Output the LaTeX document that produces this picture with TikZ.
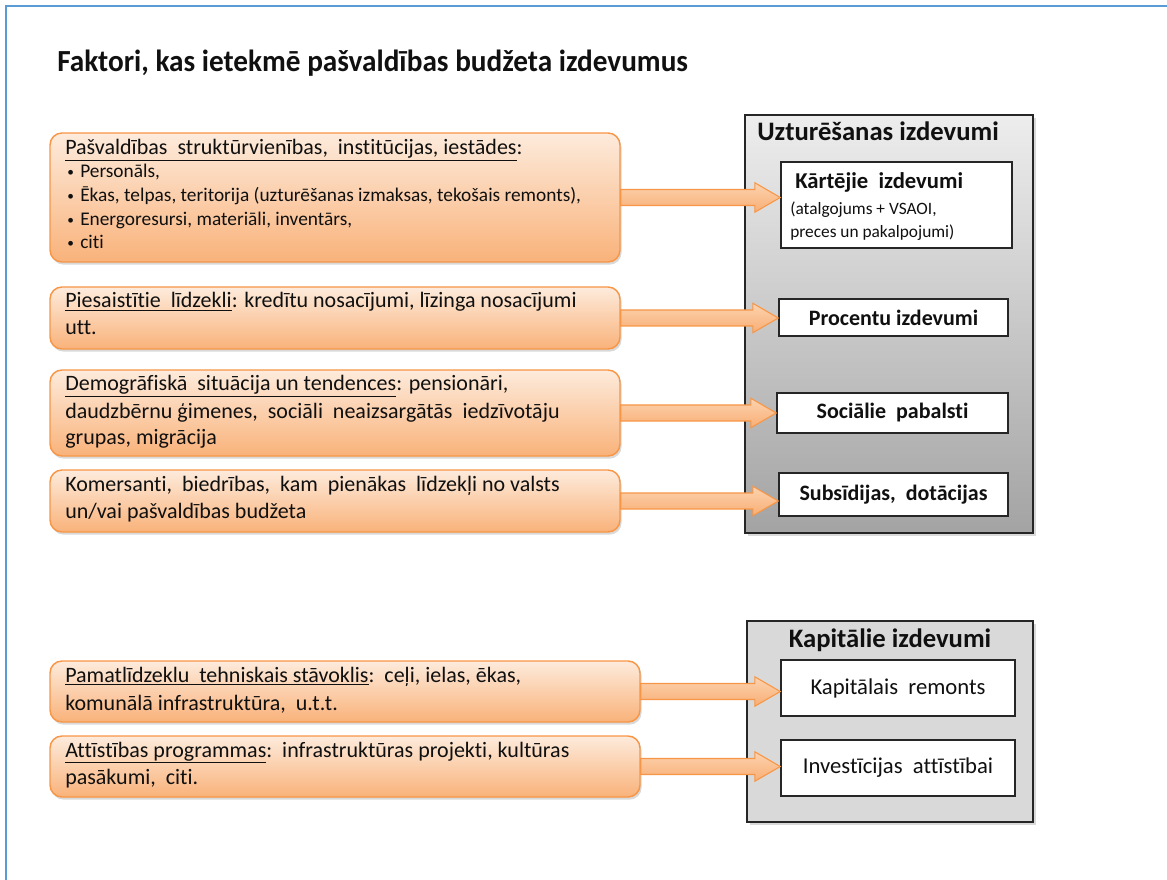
\documentclass[tikz,border=0pt]{standalone}
\usepackage{fontspec}
\setmainfont{Carlito}[Ligatures=NoCommon]
\usetikzlibrary{calc,fit,shadows}
\definecolor{orgb}{HTML}{F79646}
\definecolor{orgtop}{HTML}{FDEBDC}
\definecolor{orgbot}{HTML}{F9B27A}
\definecolor{arrtop}{HTML}{FCD3B0}
\definecolor{arrbot}{HTML}{F8AE74}
\definecolor{bluebd}{HTML}{5B9BD5}
\definecolor{txt}{HTML}{101010}
\newcommand\blockarrow[2]{%
  \draw[barrow] let \p1=(#1.east), \p2=(#2.west) in
    (\x1,\y1+6pt) -- (\x2-19pt,\y1+6pt) -- (\x2-19pt,\y1+11pt) -- (\x2,\y1)
    -- (\x2-19pt,\y1-11pt) -- (\x2-19pt,\y1-6pt) -- (\x1,\y1-6pt) -- cycle;}
\begin{document}
\begin{tikzpicture}[x=0.75pt,y=-0.75pt,
  lbox/.style={draw=orgb, line width=1.1pt, rounded corners=9pt,
    top color=orgtop, bottom color=orgbot, inner sep=0pt,
    drop shadow={shadow xshift=1.2pt, shadow yshift=-2pt, opacity=0.3}},
  gbox/.style={draw=black!85, line width=1.4pt, inner sep=0pt,
    drop shadow={shadow xshift=2pt, shadow yshift=-2pt, opacity=0.3}},
  wbox/.style={draw=black!85, line width=1.1pt, fill=white, inner sep=0pt},
  barrow/.style={draw=orgb, line width=0.8pt, top color=arrtop, bottom color=arrbot},
  ltxt/.style={anchor=base west, inner sep=0pt, text=txt, font=\fontsize{16.5}{19}\selectfont},
  btxt/.style={anchor=base west, inner sep=0pt, text=txt, font=\fontsize{14.5}{17}\selectfont},
  bul/.style={anchor=base west, inner sep=0pt, text=txt, font=\fontsize{10}{12}\selectfont},
  rtxt/.style={inner sep=0pt, text=txt, font=\fontsize{16.5}{19}\selectfont\bfseries},
  ntxt/.style={inner sep=0pt, text=txt, font=\fontsize{17}{19}\selectfont},
  htxt/.style={anchor=base, inner sep=0pt, text=txt, font=\fontsize{20}{22}\selectfont\bfseries}
]
\useasboundingbox (0,0) rectangle (1167,880);
\draw[bluebd, line width=2.2pt] (6,880) -- (6,6) -- (1167,6);

% title
\node[anchor=base west, inner sep=0pt, text=txt] (title) at (57,72)
  {\resizebox{473pt}{\height}{\fontsize{23}{27}\selectfont\bfseries Faktori, kas ietekmē pašvaldības budžeta izdevumus}};

% left boxes
\node[lbox, fit={(50,133)(620,262)}] (l1) {};
\node[lbox, fit={(50,287)(620,349)}] (l2) {};
\node[lbox, fit={(50,370)(620,456)}] (l3) {};
\node[lbox, fit={(50,470)(620,532)}] (l4) {};
\node[lbox, fit={(50,661)(640,722)}] (l5) {};
\node[lbox, fit={(50,736)(640,797)}] (l6) {};

% right containers
\node[gbox, top color=black!7, bottom color=black!36, fit={(745,115)(1033,533)}] (u) {};
\node[gbox, fill=black!15, fit={(747,621)(1033,822)}] (k) {};
\node[htxt, anchor=base west] (uh) at (757,141) {Uzturēšanas izdevumi};
\node[htxt] (kh) at (890,647) {Kapitālie izdevumi};

% white boxes
\node[wbox, fit={(781,162)(1012,248)}] (r1) {};
\node[wbox, fit={(779,299)(1008,336)}] (r2) {};
\node[wbox, fit={(777,393)(1008,433)}] (r3) {};
\node[wbox, fit={(779,473)(1008,516)}] (r4) {};
\node[wbox, fit={(781,660)(1015,716)}] (r5) {};
\node[wbox, fit={(781,740)(1015,796)}] (r6) {};

\node[rtxt, anchor=base west, font=\fontsize{17}{19}\selectfont\bfseries] (r1a) at (795,189) {Kārtējie\ \ izdevumi};
\node[ntxt, anchor=base west, font=\fontsize{13}{15}\selectfont] (r1b) at (790,215) {(atalgojums + VSAOI,};
\node[ntxt, anchor=base west, font=\fontsize{13}{15}\selectfont] (r1c) at (790,238) {preces un pakalpojumi)};
\node[rtxt] (r2t) at (r2.center) {Procentu izdevumi};
\node[rtxt] (r3t) at (r3.center) {Sociālie\ \ pabalsti};
\node[rtxt] (r4t) at (r4.center) {Subsīdijas,\ \ dotācijas};
\node[ntxt] (r5t) at (r5.center) {Kapitālais\ \ remonts};
\node[ntxt] (r6t) at (r6.center) {Investīcijas\ \ attīstībai};

% left texts
\node[ltxt] (t1) at (65,155) {\underline{Pašvaldības\ \ struktūrvienības,\ \ institūcijas,\ iestādes}:};
\node[bul] (b1) at (67,177) {\textbullet};
\node[bul] (b2) at (67,201) {\textbullet};
\node[bul] (b3) at (67,225) {\textbullet};
\node[bul] (b4) at (67,248) {\textbullet};
\node[btxt] (t1a) at (80,178) {Personāls,};
\node[btxt] (t1b) at (80,202) {Ēkas, telpas, teritorija (uzturēšanas izmaksas, tekošais remonts),};
\node[btxt] (t1c) at (80,226) {Energoresursi, materiāli, inventārs,};
\node[btxt] (t1d) at (80,249) {citi};

\node[ltxt] (t2a) at (65,308) {\underline{Piesaistītie\ \ līdzekli}: kredītu nosacījumi, līzinga nosacījumi};
\node[ltxt] (t2b) at (65,335) {utt.};

\node[ltxt] (t3a) at (65,391) {\underline{Demogrāfiskā\ \ situācija un tendences}: pensionāri,};
\node[ltxt] (t3b) at (65,418) {daudzbērnu ģimenes,\ \ sociāli\ \ neaizsargātās\ \ iedzīvotāju};
\node[ltxt] (t3c) at (65,445) {grupas, migrācija};

\node[ltxt] (t4a) at (65,491) {Komersanti,\ \ biedrības,\ \ kam\ \ pienākas\ \ līdzekļi no valsts};
\node[ltxt] (t4b) at (65,518) {un/vai pašvaldības budžeta};

\node[ltxt] (t5a) at (65,682) {\underline{Pamatlīdzeklu\ \ tehniskais stāvoklis}:\ \ ceļi, ielas, ēkas,};
\node[ltxt] (t5b) at (65,710) {komunālā infrastruktūra,\ \ u.t.t.};

\node[ltxt] (t6a) at (65,757) {\underline{Attīstības programmas}:\ \ infrastruktūras projekti, kultūras};
\node[ltxt] (t6b) at (65,784) {pasākumi,\ \ citi.};

% arrows
\blockarrow{l1}{r1}
\blockarrow{l2}{r2}
\blockarrow{l3}{r3}
\blockarrow{l4}{r4}
\blockarrow{l5}{r5}
\blockarrow{l6}{r6}
\end{tikzpicture}
\end{document}
